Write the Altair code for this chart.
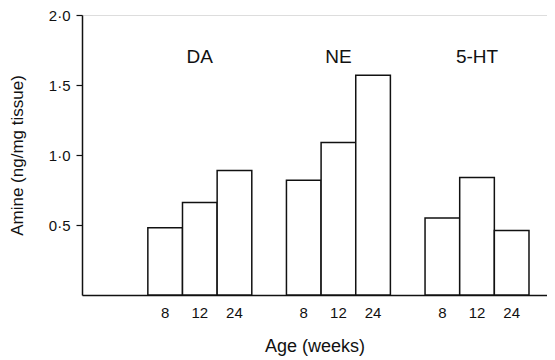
import altair as alt
import pandas as pd

groups = ["DA", "NE", "5-HT"]
ages = ["8", "12", "24"]
da_vals = [0.48, 0.66, 0.89]
ne_vals = [0.82, 1.09, 1.57]
ht_vals = [0.55, 0.84, 0.46]
y_ticks = [0.5, 1.0, 1.5, 2.0]
label_level = 1.70

rows = []
domain = ["gapL"]
for i, (g, vals) in enumerate(zip(groups, [da_vals, ne_vals, ht_vals])):
    for a, v in zip(ages, vals):
        rows.append({"group": g, "age": a, "key": f"{g} {a}", "value": v})
        domain.append(f"{g} {a}")
    if i < len(groups) - 1:
        domain.append(f"gap{i}")
df = pd.DataFrame(rows)
lab = pd.DataFrame({"group": groups, "key": [f"{g} {ages[1]}" for g in groups],
                    "value": [label_level] * len(groups)})

FONT = "Liberation Sans"
xscale = alt.Scale(domain=domain, paddingInner=0, paddingOuter=0.71, align=0.634)

bars = alt.Chart(df).mark_bar(fill="white", stroke="#111", strokeWidth=1.5).encode(
    x=alt.X("key:N", scale=xscale, sort=domain,
            axis=alt.Axis(title="Age (weeks)", ticks=False, labelAngle=0,
                          labelExpr="indexof(datum.label,'gap')>=0 ? '' : split(datum.label,' ')[1]",
                          labelPadding=10, titlePadding=17, domainColor="#111",
                          domainWidth=1.5, labelFontSize=15, titleFontSize=18,
                          labelFont=FONT, titleFont=FONT, labelColor="#111",
                          titleColor="#111", titleFontWeight="normal")),
    y=alt.Y("value:Q", scale=alt.Scale(domain=[0, 2]),
            axis=alt.Axis(title="Amine (ng/mg tissue)", values=y_ticks,
                          labelExpr="replace(format(datum.value,'.1f'),'.','·')",
                          grid=False, tickSize=6, tickColor="#111", tickWidth=1.2,
                          domainColor="#111", domainWidth=1.5, labelPadding=6,
                          labelFontSize=15, titleFontSize=17, labelFont=FONT,
                          titleFont=FONT, labelColor="#111", titleColor="#111",
                          titleFontWeight="normal", titlePadding=22)),
)

texts = alt.Chart(lab).mark_text(fontSize=19, font=FONT, color="#111",
                                 baseline="middle", align="center").encode(
    x=alt.X("key:N", scale=xscale, sort=domain),
    y=alt.Y("value:Q"),
    text="group:N",
)

chart = (bars + texts).properties(
    width=465, height=280,
    autosize=alt.AutoSizeParams(type="none"),
    padding={"left": 74, "top": 7, "right": 0, "bottom": 62},
).configure_view(stroke=None).configure(background="white")

chart.save("out.html", embed_options={"renderer": "svg", "actions": False})
